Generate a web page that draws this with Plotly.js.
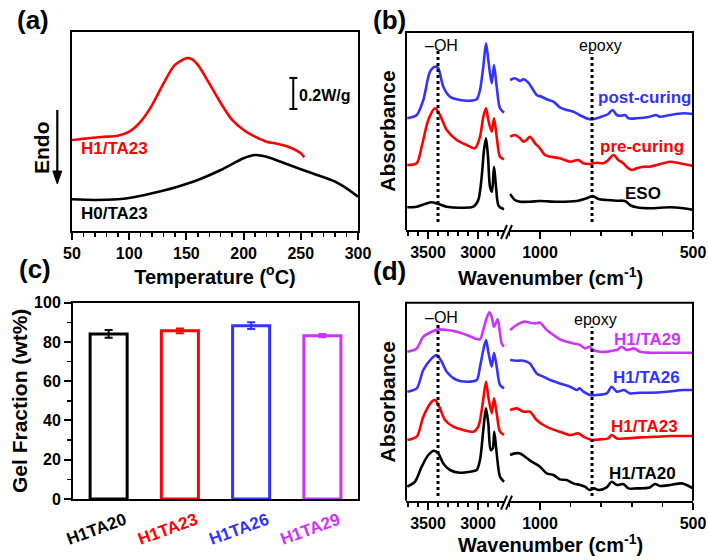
<!DOCTYPE html>
<html><head><meta charset="utf-8">
<script src="https://cdn.plot.ly/plotly-3.0.1.min.js"></script>
<style>html,body{margin:0;padding:0;background:#fff}</style>
</head><body><div id="chart" style="width:709px;height:560px"></div>
<script>
// ---------- Panel (a): DSC ----------
const dscTempH1 = [50,75,90,100,110,120,130,140,150,155,160,170,180,190,200,210,220,230,240,250,253];
const dscHeatH1 = [0.581,0.600,0.608,0.634,0.699,0.806,0.946,1.065,1.108,1.101,1.065,0.946,0.819,0.710,0.645,0.602,0.570,0.555,0.534,0.495,0.469];
const dscTempH0 = [50,70,90,100,120,140,160,180,200,210,220,240,260,280,290,300];
const dscHeatH0 = [0.198,0.194,0.198,0.206,0.237,0.275,0.323,0.387,0.463,0.484,0.473,0.419,0.366,0.312,0.269,0.215];

// ---------- Panel (b): FTIR curing ----------
const bPostL_wn = [3707,3613,3547,3480,3430,3397,3347,3280,3180,3080,3013,2980,2947,2920,2897,2863,2840,2813,2780,2740];
const bPostL_a  = [1.117,1.150,1.300,1.583,1.633,1.617,1.433,1.333,1.300,1.293,1.307,1.400,1.633,1.867,1.700,1.467,1.650,1.433,1.217,1.173];
const bPreL_wn  = [3707,3613,3563,3497,3430,3380,3313,3213,3113,3030,2980,2947,2920,2897,2863,2840,2813,2780,2740];
const bPreL_a   = [0.650,0.667,0.833,1.100,1.217,1.150,1.000,0.900,0.850,0.817,0.933,1.133,1.217,1.100,0.983,1.117,0.933,0.733,0.707];
const bEsoL_wn  = [3707,3613,3530,3463,3397,3313,3180,3047,2997,2963,2940,2920,2900,2880,2860,2840,2820,2793,2740];
const bEsoL_a   = [0.227,0.233,0.260,0.277,0.260,0.233,0.223,0.233,0.300,0.533,0.800,0.917,0.733,0.433,0.383,0.633,0.433,0.240,0.207];
const bPostR_wn = [1098,1082,1065,1054,1038,1022,1011,995,978,956,935,913,891,880,871,837,815,793,777,763,749,733,722,711,684,641,621,608,575,532,499];
const bPostR_a  = [1.500,1.517,1.490,1.507,1.473,1.400,1.350,1.333,1.307,1.283,1.227,1.200,1.183,1.167,1.150,1.107,1.117,1.140,1.160,1.200,1.150,1.143,1.150,1.117,1.117,1.133,1.150,1.133,1.150,1.167,1.160];
const bPreR_wn  = [1098,1082,1065,1054,1044,1033,1016,1000,984,967,935,902,875,858,837,815,793,777,760,744,728,717,700,684,662,641,597,575,543,499];
const bPreR_a   = [0.933,0.950,0.917,0.883,0.900,0.933,0.867,0.817,0.750,0.733,0.717,0.683,0.700,0.667,0.660,0.673,0.667,0.700,0.750,0.700,0.667,0.633,0.600,0.617,0.633,0.633,0.667,0.683,0.667,0.640];
const bEsoR_wn  = [1098,1082,1065,1033,1000,946,880,848,828,809,782,749,722,706,684,641,575,532,499];
const bEsoR_a   = [0.360,0.300,0.283,0.283,0.290,0.283,0.290,0.317,0.340,0.310,0.300,0.293,0.290,0.250,0.227,0.217,0.227,0.217,0.200];

// ---------- Panel (c): gel fraction ----------
const gelCats = ['H1TA20','H1TA23','H1TA26','H1TA29'];
const gelVals = [84.1,85.7,88.3,83.2];
const gelErr  = [2.0,1.2,1.7,0.8];

// ---------- Panel (d): FTIR series ----------
const d29L_wn = [3707,3613,3547,3463,3397,3313,3213,3113,3030,2980,2947,2920,2887,2863,2840,2803,2780,2763,2740];
const d29L_a  = [1.490,1.523,1.640,1.690,1.713,1.707,1.690,1.657,1.623,1.613,1.707,1.807,1.883,1.840,1.740,1.813,1.673,1.573,1.540];
const d26L_wn = [3707,3613,3547,3463,3413,3363,3313,3213,3113,3013,2980,2947,2920,2897,2863,2840,2813,2780,2740];
const d26L_a  = [1.090,1.123,1.307,1.423,1.457,1.390,1.290,1.207,1.190,1.207,1.340,1.507,1.607,1.490,1.340,1.480,1.340,1.157,1.123];
const d23L_wn = [3707,3613,3547,3463,3430,3380,3330,3247,3147,3047,2997,2953,2920,2897,2863,2840,2813,2780,2740];
const d23L_a  = [0.607,0.640,0.840,0.990,1.007,0.923,0.807,0.740,0.707,0.690,0.740,0.973,1.190,1.040,0.873,1.023,0.873,0.690,0.657];
const d20L_wn = [3707,3630,3563,3497,3440,3397,3347,3280,3180,3080,3013,2980,2947,2920,2897,2873,2853,2837,2813,2780,2740];
const d20L_a  = [0.140,0.190,0.340,0.457,0.500,0.473,0.373,0.307,0.280,0.290,0.307,0.407,0.707,0.923,0.773,0.507,0.523,0.690,0.473,0.240,0.190];
const d29R_wn = [1098,1076,1054,1033,1016,1000,978,956,935,913,891,869,853,839,826,804,782,766,749,733,717,693,673,641,600,550,499];
const d29R_a  = [1.707,1.757,1.790,1.780,1.773,1.780,1.707,1.657,1.613,1.590,1.573,1.557,1.523,1.540,1.507,1.490,1.490,1.500,1.507,1.540,1.507,1.523,1.490,1.480,1.480,1.480,1.480];
const d26R_wn = [1098,1076,1054,1033,1011,989,967,935,902,880,871,858,837,815,782,766,749,725,706,673,641,586,532,499];
const d26R_a  = [1.407,1.400,1.400,1.373,1.273,1.240,1.207,1.173,1.140,1.107,1.123,1.090,1.057,1.057,1.073,1.140,1.090,1.107,1.073,1.080,1.080,1.090,1.107,1.107];
const d23R_wn = [1098,1076,1054,1033,1011,989,967,935,902,875,858,831,804,777,766,749,717,673,619,575,499];
const d23R_a  = [0.907,0.923,0.890,0.890,0.807,0.757,0.723,0.690,0.657,0.673,0.640,0.607,0.613,0.623,0.657,0.623,0.623,0.633,0.640,0.647,0.647];
const d20R_wn = [1098,1082,1065,1049,1027,1000,978,956,935,913,891,869,853,837,823,809,782,766,749,728,711,684,641,624,608,575,537,521,499];
const d20R_a  = [0.457,0.473,0.473,0.440,0.390,0.340,0.273,0.257,0.213,0.207,0.173,0.157,0.140,0.107,0.123,0.107,0.133,0.190,0.157,0.167,0.123,0.123,0.133,0.167,0.147,0.157,0.173,0.157,0.123];

// ---------- styling ----------
const W = 709, H = 560;
const X = p => p / W;
const Y = p => 1 - p / H;
const BLACK = '#000000', RED = '#ff0000', BLUE = '#3333ff', MAG = '#cc33ff';
const gelColors = [BLACK, RED, BLUE, MAG];
const FONT = 'Liberation Sans, Arial, Helvetica, sans-serif';

function line(x, y, color, xa, ya) {
  return {type:'scatter', mode:'lines', x:x, y:y, xaxis:xa, yaxis:ya,
    line:{color:color, width:2.6, shape:'spline', smoothing:0.8}, hoverinfo:'skip', showlegend:false};
}

const traces = [
  line(dscTempH1, dscHeatH1, RED, 'x', 'y'),
  line(dscTempH0, dscHeatH0, BLACK, 'x', 'y'),
  line(bPostL_wn, bPostL_a, BLUE, 'x2', 'y2'),
  line(bPreL_wn, bPreL_a, RED, 'x2', 'y2'),
  line(bEsoL_wn, bEsoL_a, BLACK, 'x2', 'y2'),
  line(bPostR_wn, bPostR_a, BLUE, 'x3', 'y2'),
  line(bPreR_wn, bPreR_a, RED, 'x3', 'y2'),
  line(bEsoR_wn, bEsoR_a, BLACK, 'x3', 'y2'),
  line(d29L_wn, d29L_a, MAG, 'x5', 'y4'),
  line(d26L_wn, d26L_a, BLUE, 'x5', 'y4'),
  line(d23L_wn, d23L_a, RED, 'x5', 'y4'),
  line(d20L_wn, d20L_a, BLACK, 'x5', 'y4'),
  line(d29R_wn, d29R_a, MAG, 'x6', 'y4'),
  line(d26R_wn, d26R_a, BLUE, 'x6', 'y4'),
  line(d23R_wn, d23R_a, RED, 'x6', 'y4'),
  line(d20R_wn, d20R_a, BLACK, 'x6', 'y4')
];
gelCats.forEach((c, i) => {
  traces.push({type:'bar', x:[c], y:[gelVals[i]], xaxis:'x4', yaxis:'y3', width:0.52,
    marker:{color:'rgba(255,255,255,0)', line:{color:gelColors[i], width:3}},
    error_y:{type:'data', array:[gelErr[i]], color:gelColors[i], thickness:2, width:4},
    hoverinfo:'skip', showlegend:false});
});

const tickF = {family:FONT, size:16, color:'#000', weight:'bold'};
const baseX = {showgrid:false, zeroline:false, showline:true, linewidth:2, linecolor:'#000',
  ticks:'outside', ticklen:7, tickwidth:2, tickcolor:'#000', tickfont:tickF};
const hiddenY = {showgrid:false, zeroline:false, showline:false, ticks:'', showticklabels:false, fixedrange:true};

const yA0 = (230 - 231) / 155, yA1 = (230 - 32) / 155;

const layout = {
  width:W, height:H, margin:{l:0, r:0, t:0, b:0}, paper_bgcolor:'#fff', plot_bgcolor:'rgba(0,0,0,0)',
  font:{family:FONT, color:'#000', weight:'bold'}, showlegend:false, barmode:'overlay',
  xaxis: Object.assign({}, baseX, {domain:[X(72), X(358)], range:[50,300], anchor:'y', dtick:50, mirror:true,
    minor:{dtick:10, ticks:'outside', ticklen:4, tickwidth:1.5, tickcolor:'#000'},
    title:{text:'Temperature (<sup>o</sup>C)', font:{family:FONT, size:20, weight:'bold'}, standoff:3}}),
  yaxis: {domain:[Y(231), Y(32)], range:[yA0, yA1], anchor:'x', showgrid:false, zeroline:false,
    showline:true, mirror:true, linewidth:2, linecolor:'#000', ticks:'', showticklabels:false},
  // panel b
  xaxis2: Object.assign({}, baseX, {domain:[X(406), X(505)], range:[3720,2730], anchor:'y2', dtick:500, tick0:0,
    minor:{dtick:100, ticks:'outside', ticklen:4, tickwidth:1.5, tickcolor:'#000'}}),
  xaxis3: Object.assign({}, baseX, {domain:[X(509.4), X(693)], range:[1100,500], anchor:'y2', dtick:500, tick0:0,
    minor:{dtick:100, ticks:'outside', ticklen:4, tickwidth:1.5, tickcolor:'#000'}}),
  yaxis2: Object.assign({}, hiddenY, {domain:[Y(230), Y(32)], range:[0,1.98], anchor:'x2',
    title:{text:'Absorbance', font:{family:FONT, size:21, weight:'bold'}, standoff:3}}),
  // panel c
  xaxis4: {domain:[X(73), X(358)], range:[-0.5,3.5], anchor:'y3', type:'category', showgrid:false, zeroline:false,
    showline:true, mirror:true, linewidth:2, linecolor:'#000', ticks:'', tickangle:-20,
    tickfont:{family:FONT, size:17, color:'#000', weight:'bold'},
    ticklabelshift:16, ticklabelstandoff:3,
    tickmode:'array', tickvals:gelCats,
    ticktext:gelCats.map((c, i) => '<span style="color:' + gelColors[i] + '">' + c + '</span>')},
  yaxis3: {domain:[Y(499), Y(302.7)], range:[0,100], anchor:'x4', dtick:20, showgrid:false, zeroline:false,
    showline:true, mirror:true, linewidth:2, linecolor:'#000', ticks:'outside', ticklen:7, tickwidth:2,
    tickcolor:'#000', tickfont:tickF,
    minor:{dtick:10, ticks:'outside', ticklen:4, tickwidth:1.5, tickcolor:'#000'},
    title:{text:'Gel Fraction (wt%)', font:{family:FONT, size:21, weight:'bold'}, standoff:1}},
  // panel d
  xaxis5: Object.assign({}, baseX, {domain:[X(406), X(505)], range:[3720,2730], anchor:'y4', dtick:500, tick0:0,
    minor:{dtick:100, ticks:'outside', ticklen:4, tickwidth:1.5, tickcolor:'#000'}}),
  xaxis6: Object.assign({}, baseX, {domain:[X(509.4), X(693)], range:[1100,500], anchor:'y4', dtick:500, tick0:0,
    minor:{dtick:100, ticks:'outside', ticklen:4, tickwidth:1.5, tickcolor:'#000'}}),
  yaxis4: Object.assign({}, hiddenY, {domain:[Y(500.7), Y(302.7)], range:[0,1.98], anchor:'x5',
    title:{text:'Absorbance', font:{family:FONT, size:21, weight:'bold'}, standoff:3}}),
  shapes: [],
  annotations: []
};

// borders of the broken-axis panels (top, left, right) and break marks
function panelFrame(top, bottom) {
  const s = {type:'line', xref:'paper', yref:'paper', line:{color:'#000', width:2}};
  layout.shapes.push(Object.assign({}, s, {x0:X(405), x1:X(694), y0:Y(top), y1:Y(top)}));
  layout.shapes.push(Object.assign({}, s, {x0:X(406), x1:X(406), y0:Y(top), y1:Y(bottom)}));
  layout.shapes.push(Object.assign({}, s, {x0:X(693), x1:X(693), y0:Y(top), y1:Y(bottom)}));
  layout.shapes.push(Object.assign({}, s, {x0:X(501), x1:X(507), y0:Y(bottom + 9), y1:Y(bottom - 5)}));
  layout.shapes.push(Object.assign({}, s, {x0:X(506), x1:X(512), y0:Y(bottom + 9), y1:Y(bottom - 5)}));
}
panelFrame(32, 230);
panelFrame(302.7, 500.7);

// dotted marker lines (-OH at 3400, epoxy at 830 cm-1)
const dot = {type:'line', line:{color:'#000', width:3, dash:'dot'}};
layout.shapes.push(Object.assign({}, dot, {xref:'x2', yref:'y2', x0:3400, x1:3400, y0:0.08, y1:1.80}));
layout.shapes.push(Object.assign({}, dot, {xref:'x3', yref:'y2', x0:830, x1:830, y0:0.08, y1:1.77}));
layout.shapes.push(Object.assign({}, dot, {xref:'x5', yref:'y4', x0:3400, x1:3400, y0:0.047, y1:1.773}));
layout.shapes.push(Object.assign({}, dot, {xref:'x6', yref:'y4', x0:830, x1:830, y0:0.047, y1:1.74}));

// scale bar 0.2 W/g in panel a
const sb = {type:'line', xref:'x', yref:'y', line:{color:'#000', width:2}};
layout.shapes.push(Object.assign({}, sb, {x0:243.4, x1:243.4, y0:0.781, y1:0.981}));
layout.shapes.push(Object.assign({}, sb, {x0:240, x1:247, y0:0.781, y1:0.781}));
layout.shapes.push(Object.assign({}, sb, {x0:240, x1:247, y0:0.981, y1:0.981}));

// "Endo" arrow (pointing down)
layout.shapes.push({type:'line', xref:'paper', yref:'paper', x0:X(57.3), x1:X(57.3), y0:Y(110), y1:Y(175),
  line:{color:'#000', width:2.2}});
layout.shapes.push({type:'path', xref:'paper', yref:'paper',
  path:'M ' + X(52.8) + ' ' + Y(171) + ' L ' + X(61.8) + ' ' + Y(171) + ' L ' + X(57.3) + ' ' + Y(184) + ' Z',
  fillcolor:'#000', line:{color:'#000', width:1}});

function ann(text, px, py, size, color, extra) {
  layout.annotations.push(Object.assign({text:text, xref:'paper', yref:'paper', x:X(px), y:Y(py),
    xanchor:'center', yanchor:'middle', showarrow:false,
    font:{family:FONT, size:size, color:color || '#000', weight:'bold'}}, extra || {}));
}
const thinF = {family:FONT, size:16, color:'#000', weight:'normal'};
// panel labels
ann('(a)', 33, 20, 26);
ann('(b)', 389, 20, 26);
ann('(c)', 35, 269, 26);
ann('(d)', 389, 271, 26);
// panel a
ann('H1/TA23', 114, 149, 17, RED);
ann('H0/TA23', 114, 213, 17, BLACK);
ann('0.2W/g', 325, 95, 16, BLACK);
ann('Endo', 42, 148, 21, BLACK, {textangle:-90});
// panel b
ann('–OH', 441, 45, 16, BLACK, {font:thinF});
ann('epoxy', 600, 45, 16, BLACK, {font:thinF});
ann('post-curing', 645, 97, 17, BLUE);
ann('pre-curing', 642, 147, 17, RED);
ann('ESO', 643, 193, 17, BLACK);
ann('Wavenumber (cm<sup>-1</sup>)', 550, 276, 20, BLACK);
// panel d
ann('–OH', 441, 317, 16, BLACK, {font:thinF});
ann('epoxy', 595, 319, 16, BLACK, {font:thinF});
ann('H1/TA29', 647, 339, 17, MAG);
ann('H1/TA26', 646, 377, 17, BLUE);
ann('H1/TA23', 644, 426, 17, RED);
ann('H1/TA20', 642, 473, 17, BLACK);
ann('Wavenumber (cm<sup>-1</sup>)', 550, 543, 20, BLACK);

Plotly.newPlot('chart', traces, layout, {staticPlot:true, displayModeBar:false});
</script></body></html>
